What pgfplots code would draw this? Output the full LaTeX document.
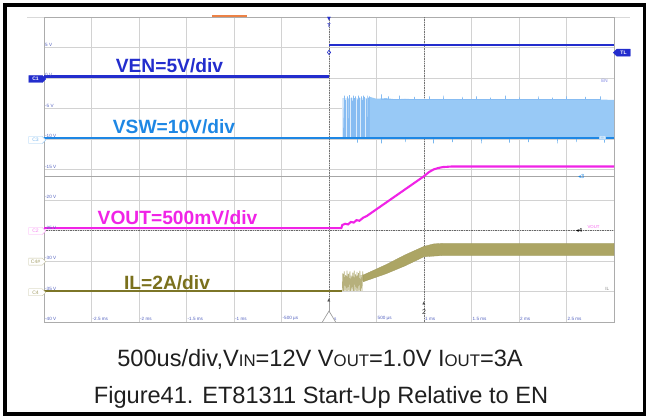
\documentclass[border=0pt]{standalone}
\usepackage{pgfplots}
\pgfplotsset{compat=1.18}
\usepackage{fontspec}
\setmainfont{Liberation Sans}
\newfontfamily\capfont{Liberation Sans}
\newfontfamily\dejavu{DejaVu Sans}
\usetikzlibrary{shapes.symbols}

\definecolor{enblue}{RGB}{35,45,205}
\definecolor{swblue}{RGB}{30,135,228}
\definecolor{swfill}{RGB}{152,201,246}
\definecolor{swspike}{RGB}{135,188,242}
\definecolor{swlight}{RGB}{220,235,251}
\definecolor{vout}{RGB}{240,35,230}
\definecolor{ilc}{RGB}{125,118,40}
\definecolor{ilfill}{RGB}{172,165,100}
\definecolor{ilburst}{RGB}{182,176,124}
\definecolor{iltext}{RGB}{122,112,28}
\definecolor{gridc}{RGB}{210,210,210}
\definecolor{labc}{RGB}{80,95,190}
\definecolor{orangebar}{RGB}{236,130,70}

\begin{document}
\begin{tikzpicture}
\useasboundingbox (0pt,0pt) rectangle (648pt,418pt);
% outer frame
\draw[line width=3.6pt] (4.7pt,4pt) rectangle (644.5pt,412.7pt);
% top line of screenshot and orange bar
\draw[gray!30, line width=0.8pt] (27pt,401pt) -- (630pt,401pt);
\fill[orangebar] (212pt,401pt) rectangle (247pt,403pt);

\begin{axis}[
  at={(44pt,96pt)}, anchor=south west,
  scale only axis, width=570pt, height=305pt,
  xmin=-3, xmax=3, ymin=-40, ymax=10,
  xtick={-3,-2.5,...,3}, ytick={-40,-35,...,10},
  xticklabels={}, yticklabels={},
  major tick length=0pt,
  grid=major, grid style={gridc, line width=0.6pt},
  axis line style={draw=gray!65, line width=0.8pt},
  clip=true,
]
% cursors
\addplot[black!55, densely dotted, line width=0.7pt] coordinates {(0,-40) (0,10)};
\addplot[black!55, densely dotted, line width=0.7pt] coordinates {(1,-40) (1,10)};
\addplot[black!60, densely dotted, line width=0.7pt] coordinates {(-3,-25) (3,-25)};
\addplot[gray!70, line width=0.7pt] coordinates {(-3,-16.07) (3,-16.07)};

% VSW: sparse start, dense band
\addplot[fill=swlight, draw=none] coordinates {(0.14,-9.85) (0.14,-3.2) (0.43,-3.2) (0.43,-9.85)} -- cycle;
\addplot[swspike, line width=0.45pt] coordinates {
(0.145,-9.85)(0.145,-3.3)(0.145,-9.85)
(0.160,-9.85)(0.160,-2.9)(0.160,-9.85)
(0.175,-9.85)(0.175,-3.6)(0.175,-9.85)
(0.190,-9.85)(0.190,-3.0)(0.190,-9.85)
(0.200,-9.85)(0.200,-3.4)(0.200,-9.85)
(0.215,-9.85)(0.215,-2.8)(0.215,-9.85)
(0.230,-9.85)(0.230,-3.2)(0.230,-9.85)
(0.240,-9.85)(0.240,-3.7)(0.240,-9.85)
(0.255,-9.85)(0.255,-2.9)(0.255,-9.85)
(0.270,-9.85)(0.270,-3.3)(0.270,-9.85)
(0.280,-9.85)(0.280,-3.0)(0.280,-9.85)
(0.295,-9.85)(0.295,-3.5)(0.295,-9.85)
(0.310,-9.85)(0.310,-2.9)(0.310,-9.85)
(0.320,-9.85)(0.320,-3.2)(0.320,-9.85)
(0.335,-9.85)(0.335,-3.0)(0.335,-9.85)
(0.350,-9.85)(0.350,-3.6)(0.350,-9.85)
(0.360,-9.85)(0.360,-2.9)(0.360,-9.85)
(0.375,-9.85)(0.375,-3.1)(0.375,-9.85)
(0.390,-9.85)(0.390,-3.4)(0.390,-9.85)
(0.400,-9.85)(0.400,-2.9)(0.400,-9.85)
(0.415,-9.85)(0.415,-3.2)(0.415,-9.85)
(0.425,-9.85)(0.425,-3.0)(0.425,-9.85)
};
\addplot[fill=swfill, draw=none] coordinates {
(0.43,-9.85)(0.43,-3.1)(0.5,-3.4)(0.6,-3.3)(0.7,-3.5)(0.8,-3.4)(0.9,-3.5)(1.0,-3.6)
(1.2,-3.5)(1.4,-3.6)(1.6,-3.5)(1.8,-3.6)(2.0,-3.5)(2.2,-3.6)(2.4,-3.5)(2.6,-3.6)(2.8,-3.5)(3,-3.6)(3,-9.85)
} -- cycle;
\addplot[swspike, line width=0.45pt] coordinates {
(0.55,-3.5)(0.55,-2.7)(0.55,-3.5)
(0.62,-3.5)(0.62,-3.0)(0.62,-3.5)
(0.74,-3.5)(0.74,-2.9)(0.74,-3.5)
(0.90,-3.5)(0.90,-3.1)(0.90,-3.5)
(1.05,-3.5)(1.05,-3.0)(1.05,-3.5)
(1.20,-3.5)(1.20,-2.9)(1.20,-3.5)
(1.40,-3.5)(1.40,-3.1)(1.40,-3.5)
(1.55,-3.5)(1.55,-3.0)(1.55,-3.5)
(1.70,-3.5)(1.70,-3.2)(1.70,-3.5)
(1.85,-3.5)(1.85,-2.9)(1.85,-3.5)
(2.00,-3.5)(2.00,-3.1)(2.00,-3.5)
(2.20,-3.5)(2.20,-3.0)(2.20,-3.5)
(2.35,-3.5)(2.35,-3.2)(2.35,-3.5)
(2.50,-3.5)(2.50,-3.0)(2.50,-3.5)
(2.70,-3.5)(2.70,-3.1)(2.70,-3.5)
(2.85,-3.5)(2.85,-3.0)(2.85,-3.5)
};
\addplot[swblue!60, line width=0.5pt] coordinates {
(0.30,-9.85)(0.30,-10.6)(0.30,-9.85)
(0.55,-9.85)(0.55,-10.7)(0.55,-9.85)
(0.80,-9.85)(0.80,-10.5)(0.80,-9.85)
(1.10,-9.85)(1.10,-10.7)(1.10,-9.85)
(1.30,-9.85)(1.30,-10.5)(1.30,-9.85)
(1.60,-9.85)(1.60,-10.7)(1.60,-9.85)
(1.90,-9.85)(1.90,-10.6)(1.90,-9.85)
(2.10,-9.85)(2.10,-10.5)(2.10,-9.85)
(2.40,-9.85)(2.40,-10.7)(2.40,-9.85)
(2.60,-9.85)(2.60,-10.5)(2.60,-9.85)
(2.90,-9.85)(2.90,-10.6)(2.90,-9.85)
};
\addplot[swblue, line width=2.3pt] coordinates {(-3,-9.85) (3,-9.85)};

% VEN
\addplot[enblue, line width=2.1pt] coordinates {(-3,0.25) (0,0.25)};
\addplot[enblue, line width=2.1pt] coordinates {(0,5.45) (3,5.45)};

% VOUT
\addplot[vout, line width=2.1pt] coordinates {
(-3,-24.6)(0.13,-24.6)(0.14,-24.1)(0.17,-23.9)(0.20,-24.0)(0.23,-23.6)(0.26,-23.7)
(0.29,-23.3)(0.32,-23.4)(0.36,-22.9)(0.40,-22.6)(1.00,-16.1)(1.05,-15.45)(1.10,-15.0)
(1.15,-14.75)(1.20,-14.6)(1.30,-14.5)(3,-14.5)};

% IL
\addplot[ilburst, line width=0.7pt] coordinates {
(0.140,-34.9)(0.146,-32.0)(0.152,-34.9)(0.160,-31.7)(0.167,-34.9)(0.175,-32.3)(0.182,-34.9)
(0.190,-31.6)(0.197,-34.9)(0.205,-32.1)(0.212,-34.9)(0.220,-31.7)(0.227,-34.9)(0.235,-32.4)
(0.242,-34.9)(0.250,-31.9)(0.257,-34.9)(0.265,-31.6)(0.272,-34.9)(0.280,-32.2)(0.287,-34.9)
(0.295,-31.8)(0.302,-34.9)(0.310,-32.0)(0.317,-34.9)(0.325,-31.6)(0.332,-34.9)(0.340,-32.3)
(0.347,-34.9)(0.355,-31.7)(0.362,-33.3)};
\addplot[fill=ilfill, draw=ilfill!92!black, line width=0.3pt] coordinates {
(0.36,-32.3)(0.6,-30.6)(0.8,-29.0)(1.0,-27.6)(1.1,-27.2)(1.2,-27.1)(3,-27.1)
(3,-29.1)(1.2,-29.1)(1.1,-29.2)(1.0,-29.3)(0.8,-30.8)(0.6,-32.1)(0.36,-33.4)} -- cycle;
\addplot[ilc, line width=2.1pt] coordinates {(-3,-34.9) (0.14,-34.9)};

% markers on the axis
\addplot[only marks, mark=diamond, mark size=2.2pt, enblue, mark options={line width=0.6pt, fill=white}] coordinates {(0,4.2)};

% axis labels inside the screen
\pgfplotsinvokeforeach{5,0,-5,-10,-15,-20,-25,-30,-35,-40}{
  \node[anchor=south west, font=\fontsize{4.6}{5}\selectfont, text=labc, inner sep=1pt] at (axis cs:-3,#1) {#1 V};
}
\node[anchor=south west, font=\fontsize{4.6}{5}\selectfont, text=labc, inner sep=1pt] at (axis cs:-2.5,-40) {-2.5 ms};
\node[anchor=south west, font=\fontsize{4.6}{5}\selectfont, text=labc, inner sep=1pt] at (axis cs:-2,-40) {-2 ms};
\node[anchor=south west, font=\fontsize{4.6}{5}\selectfont, text=labc, inner sep=1pt] at (axis cs:-1.5,-40) {-1.5 ms};
\node[anchor=south west, font=\fontsize{4.6}{5}\selectfont, text=labc, inner sep=1pt] at (axis cs:-1,-40) {-1 ms};
\node[anchor=south west, font=\fontsize{4.6}{5}\selectfont, text=labc, inner sep=1pt] at (axis cs:-0.5,-40) {-500 µs};
\node[anchor=south west, font=\fontsize{4.6}{5}\selectfont, text=labc, inner sep=1pt] at (axis cs:0,-40) {0 s};
\node[anchor=south west, font=\fontsize{4.6}{5}\selectfont, text=labc, inner sep=1pt] at (axis cs:0.5,-40) {500 µs};
\node[anchor=south west, font=\fontsize{4.6}{5}\selectfont, text=labc, inner sep=1pt] at (axis cs:1,-40) {1 ms};
\node[anchor=south west, font=\fontsize{4.6}{5}\selectfont, text=labc, inner sep=1pt] at (axis cs:1.5,-40) {1.5 ms};
\node[anchor=south west, font=\fontsize{4.6}{5}\selectfont, text=labc, inner sep=1pt] at (axis cs:2,-40) {2 ms};
\node[anchor=south west, font=\fontsize{4.6}{5}\selectfont, text=labc, inner sep=1pt] at (axis cs:2.5,-40) {2.5 ms};

% trigger symbol at bottom and cursor 2
\draw[gray!75, line width=0.7pt, fill=white] (axis cs:-0.07,-40) -- (axis cs:0,-38.2) -- (axis cs:0.07,-40);
\draw[gray!75, line width=0.7pt] (axis cs:0,-38.2) -- (axis cs:0,-36.6);
\node[font=\dejavu\fontsize{4}{4}\selectfont, text=black!70, inner sep=0pt] at (axis cs:0,-36.4) {▲};
\node[font=\dejavu\fontsize{4}{4}\selectfont, text=black!70, inner sep=0pt] at (axis cs:1,-37.0) {▲};
\node[font=\fontsize{7}{7}\selectfont, text=black!80, inner sep=0pt] at (axis cs:1,-38.4) {2};

% right-side small labels
\node[font=\fontsize{4.6}{5}\selectfont, text=enblue!60, inner sep=0pt] at (axis cs:2.9,-0.4) {EN};
\node[font=\dejavu\fontsize{5.5}{6}\selectfont, text=swblue, inner sep=0pt, anchor=west] at (axis cs:2.62,-16.07) {◂3};
\node[font=\dejavu\fontsize{5.5}{6}\selectfont, text=black, inner sep=0pt, anchor=west] at (axis cs:2.6,-25) {◂4};
\node[font=\fontsize{4.3}{5}\selectfont, text=vout!70, inner sep=0pt, anchor=west] at (axis cs:2.72,-24.5) {VOUT};
\node[font=\fontsize{4.6}{5}\selectfont, text=gray, inner sep=0pt] at (axis cs:2.93,-34.5) {IL};
\node[font=\fontsize{4.3}{5}\selectfont, text=white, fill=swblue!35, inner sep=0.6pt] at (axis cs:2.88,-9.85) {C3};
\end{axis}

% trigger marker at top
\node[font=\dejavu\fontsize{5}{5}\selectfont, text=enblue, inner sep=0pt] at (329pt,398.5pt) {▼};
\node[font=\bfseries\fontsize{5.5}{5}\selectfont, text=enblue, inner sep=0pt] at (329pt,392pt) {T};

% channel tags on the left
\node[signal, signal to=east, fill=enblue, draw=enblue, text=white, font=\bfseries\fontsize{5}{5}\selectfont, inner sep=1pt, minimum height=7pt, minimum width=17pt] at (35.5pt,339pt) {C1};
\node[signal, signal to=east, fill=white, draw=swblue!45, text=swblue!60, font=\fontsize{5}{5}\selectfont, inner sep=1pt, minimum height=7pt, minimum width=17pt] at (35.5pt,278pt) {C3};
\node[signal, signal to=east, fill=white, draw=vout!40, text=vout!55, font=\fontsize{5}{5}\selectfont, inner sep=1pt, minimum height=7pt, minimum width=17pt] at (35.5pt,187pt) {C2};
\node[signal, signal to=east, fill=white, draw=ilc!45, text=ilc!70, font=\fontsize{5}{5}\selectfont, inner sep=1pt, minimum height=7pt, minimum width=17pt] at (35.5pt,156.3pt) {C4\#};
\node[signal, signal to=east, fill=white, draw=ilc!45, text=ilc!70, font=\fontsize{5}{5}\selectfont, inner sep=1pt, minimum height=7pt, minimum width=17pt] at (35.5pt,125.7pt) {C4};
% TL tag on the right
\node[signal, signal to=west, fill=enblue, draw=enblue, text=white, font=\bfseries\fontsize{5}{5}\selectfont, inner sep=1pt, minimum height=7pt, minimum width=17pt] at (623.5pt,365.3pt) {TL};

% trace labels
\node[anchor=base, text=enblue, font=\bfseries\fontsize{19.2}{22}\selectfont, inner sep=0pt] at (169.5pt,345.3pt) {VEN=5V/div};
\node[anchor=base, text=swblue, font=\bfseries\fontsize{19.2}{22}\selectfont, inner sep=0pt] at (174pt,284.7pt) {VSW=10V/div};
\node[anchor=base, text=vout, font=\bfseries\fontsize{19.2}{22}\selectfont, inner sep=0pt] at (177.5pt,193pt) {VOUT=500mV/div};
\node[anchor=base, text=iltext, font=\bfseries\fontsize{19.2}{22}\selectfont, inner sep=0pt] at (167pt,128.5pt) {IL=2A/div};

% caption
\node[anchor=base, text=black!88, inner sep=0pt, font=\capfont\fontsize{23.6}{27}\selectfont] at (320pt,52pt)
  {500us/div,V{\fontsize{16.8}{18}\selectfont IN}=12V V{\fontsize{16.8}{18}\selectfont OUT}=1.0V I{\fontsize{16.8}{18}\selectfont OUT}=3A};
\node[anchor=base, text=black!88, inner sep=0pt, font=\capfont\fontsize{23.6}{27}\selectfont] at (321pt,15pt)
  {Figure41. ET81311 Start-Up Relative to EN};
\end{tikzpicture}
\end{document}
